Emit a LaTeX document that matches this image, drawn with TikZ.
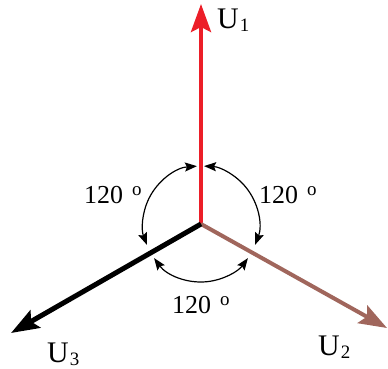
\documentclass[tikz,border=0pt]{standalone}
\usepackage{fontspec}
\setmainfont{Liberation Serif}
\usetikzlibrary{arrows.meta,calc}
\definecolor{ured}{RGB}{236,30,40}
\definecolor{ubrown}{RGB}{160,102,92}
\newcommand{\ulab}[1]{U\hspace{1bp}\raisebox{-3bp}{\fontsize{19}{19}\selectfont #1}}
\newcommand{\degl}{120\hspace{0.35em}\raisebox{8bp}{\fontsize{19}{19}\selectfont o}}
\begin{document}
\begin{tikzpicture}[x=1bp,y=-1bp,
  vec/.style={line width=#1, -{Stealth[length=28bp,width=20bp,inset=5bp]}},
  ang/.style={line width=1.2bp, {Stealth[length=12bp,width=9bp,inset=2bp]}-{Stealth[length=12bp,width=9bp,inset=2bp]}},
  deg/.style={font=\fontsize{26}{26}\selectfont, anchor=base west, inner sep=0pt},
  lab/.style={font=\fontsize{30}{30}\selectfont, anchor=base west, inner sep=0pt}]
\useasboundingbox (0,0) rectangle (388,369);
\coordinate (O) at (201,224);
\coordinate (T1) at (201,4);
\coordinate (T2) at (387,328);
\coordinate (T3) at (11,333);
% angle arcs
\draw[ang] ($(O)+(-94:58)$) arc[start angle=-94, end angle=-201, radius=58];
\draw[ang] ($(O)+(-216:58)$) arc[start angle=-216, end angle=-324, radius=58];
\draw[ang] ($(O)+(-339:58)$) arc[start angle=-339, end angle=-447, radius=58];
% vectors
\draw[vec=4bp, ured] (O) -- (T1);
\draw[vec=4bp, ubrown] (O) -- (T2);
\draw[vec=5bp, black] (O) -- (T3);
% labels
\node[lab] (l1) at (217,28) {\ulab{1}};
\node[lab] (l2) at (318,355) {\ulab{2}};
\node[lab] (l3) at (47,362) {\ulab{3}};
\node[deg] (a1) at (84,203) {\degl};
\node[deg] (a2) at (259,203) {\degl};
\node[deg] (a3) at (172,313) {\degl};
\end{tikzpicture}
\end{document}
